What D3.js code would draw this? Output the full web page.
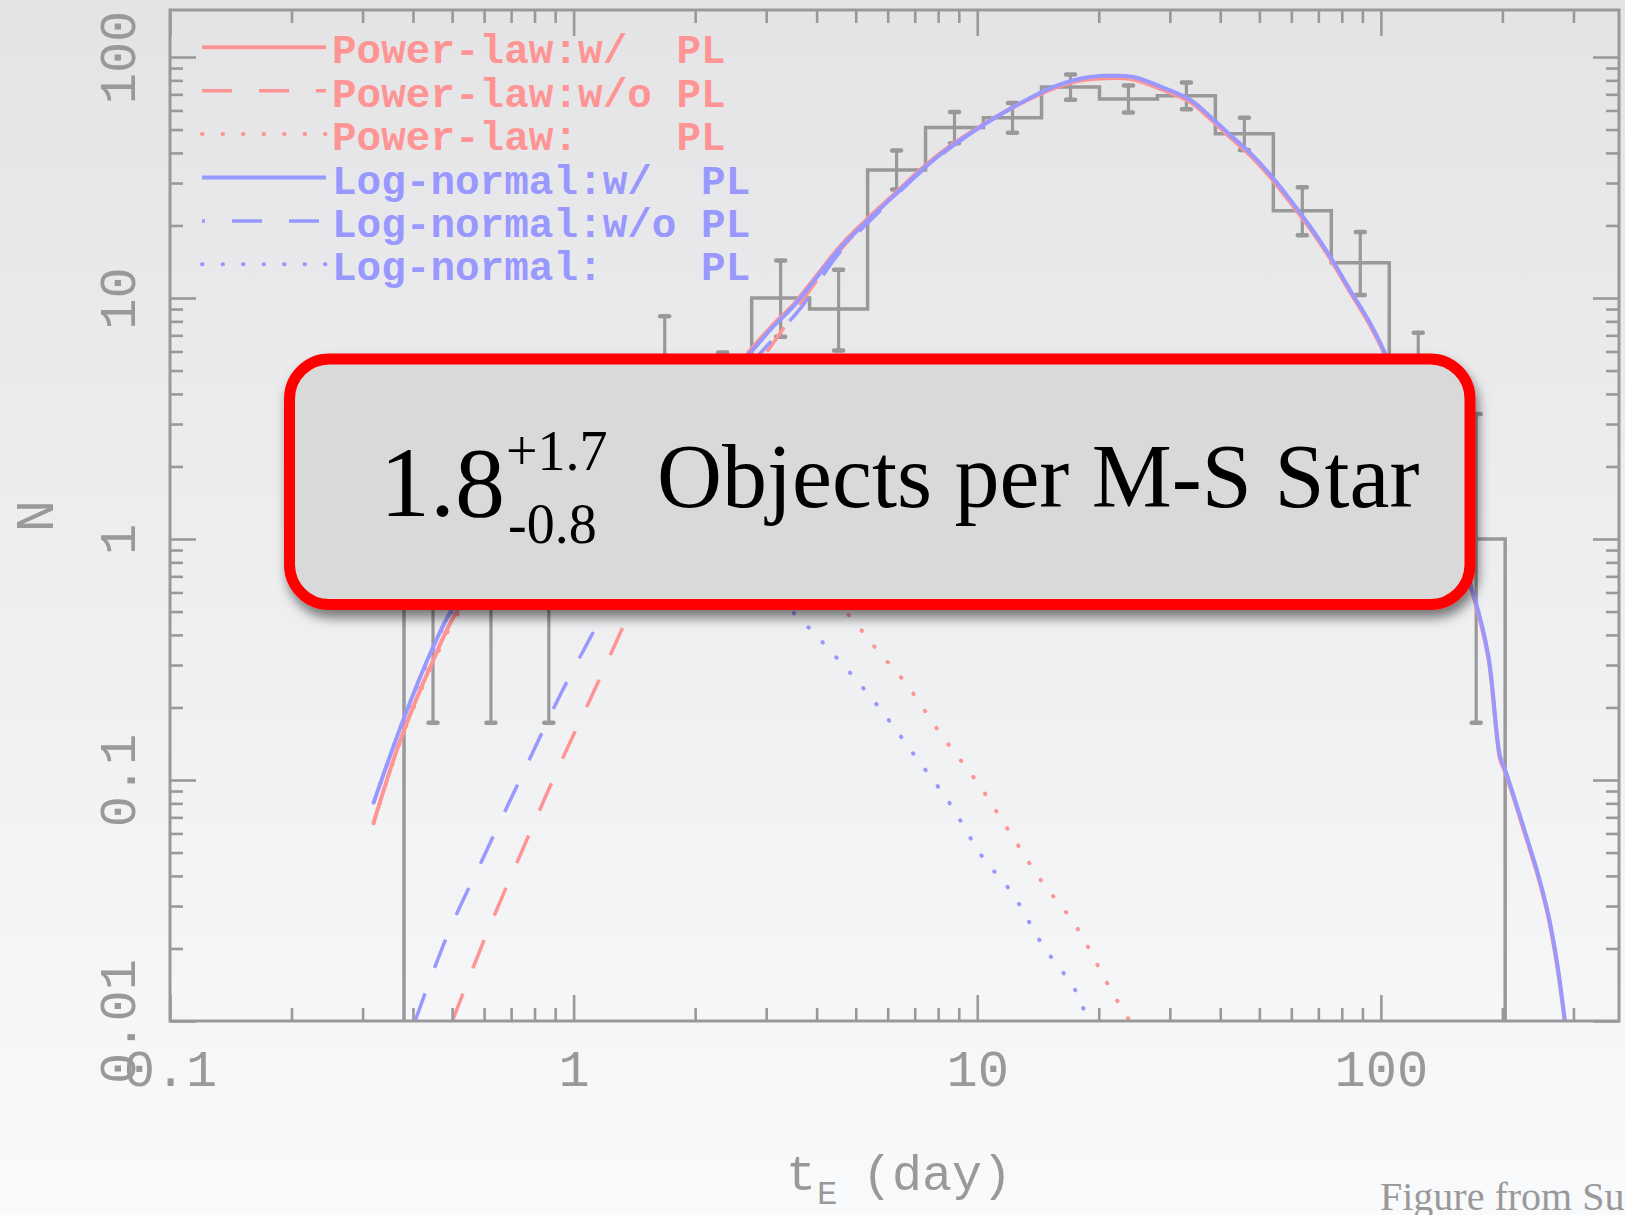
<!DOCTYPE html>
<html>
<head>
<meta charset="utf-8">
<script src="https://cdn.jsdelivr.net/npm/d3@7"></script>
<style>
  body { margin: 0; background: #eef0f2; }
  svg { display: block; }
</style>
</head>
<body>
<script>
// histogram of event timescales (bin edges in days, counts per bin, error bar ends)
var binEdges = [0.380, 0.529, 0.736, 1.024, 1.425, 1.984, 2.761, 3.843, 5.350, 7.446, 10.36,
                14.43, 20.08, 27.95, 38.90, 54.14, 75.36, 104.9, 146.0, 203.2];
var counts  = [1, 1, 1, 2, 5, 3, 10, 9, 34, 51, 56, 75, 67, 69, 48, 23, 14, 4, 1];
var errLow  = [0.173, 0.173, 0.173, 0.712, 2.85, 1.37, 6.90, 6.06, 28.2, 43.9, 48.5, 66.4, 58.8, 60.7, 41.1, 18.2, 10.3, 2.09, 0.173];
var errHigh = [3.30, 3.30, 3.30, 4.66, 8.40, 5.94, 14.3, 13.1, 40.9, 59.2, 64.5, 84.7, 76.2, 78.4, 56.0, 28.8, 18.8, 7.18, 3.30];

// power-law model, with planetary-mass population
var plWithT = [0.3195, 0.3725, 0.4418, 0.5172, 0.631, 0.794, 1.0, 1.26, 1.58, 2.00, 2.736, 3.125, 3.503, 3.926,
               4.571, 5.324, 6.196, 7.217, 8.403, 9.781, 11.39, 13.27, 15.44, 17.98, 20.94, 24.37, 28.38, 33.68,
               37.74, 42.30, 47.42, 53.16, 59.57, 66.77, 74.82, 83.86, 94.0, 102.4, 131.8, 171.2, 184.7, 197.4,
               203.2, 228.0, 246.0, 260.4, 273.3, 285.5];
var plWithN = [0.0665, 0.147, 0.296, 0.509, 0.750, 1.00, 1.29, 1.58, 2.04, 2.95, 6.05, 7.77, 9.40, 11.9,
               16.4, 21.2, 26.8, 34.0, 41.8, 49.5, 57.8, 66.2, 74.0, 79.8, 81.7, 80.7, 73.8, 65.0,
               55.4, 46.5, 39.1, 31.8, 25.0, 19.4, 14.6, 10.6, 7.70, 5.78, 1.95, 0.547, 0.319, 0.122,
               0.108, 0.0590, 0.0389, 0.0266, 0.0170, 0.0099];
// power-law model without it
var plWithoutT = [0.5002, 0.6049, 0.7411, 0.9112, 1.127, 1.381, 1.778, 2.239, 2.736, 3.083, 3.659, 4.571, 6.196, 7.217, 8.403, 9.781];
var plWithoutN = [0.00996, 0.0224, 0.0498, 0.110, 0.237, 0.501, 1.20, 2.63, 4.79, 6.31, 9.55, 15.8, 26.6, 33.9, 41.5, 49.4];
// power-law model, planetary-mass part only
var plOnlyT = [0.3195, 0.3725, 0.4418, 0.5172, 0.631, 0.794, 1.0, 1.26, 1.58, 2.0, 2.51, 3.162, 3.981, 4.873,
               5.685, 6.649, 8.147, 10.02, 12.07, 14.36, 17.47, 19.92, 21.63, 23.86];
var plOnlyN = [0.0661, 0.145, 0.288, 0.490, 0.724, 0.933, 1.12, 1.20, 1.20, 1.12, 1.00, 0.851, 0.676, 0.470,
               0.342, 0.252, 0.154, 0.0973, 0.0603, 0.0385, 0.0251, 0.0169, 0.0131, 0.0100];

// log-normal model, with planetary-mass population
var lnWithT = [0.3195, 0.3786, 0.4458, 0.4996, 0.631, 0.794, 1.0, 1.26, 1.58, 2.00, 2.736, 3.125, 3.503, 3.926,
               4.571, 5.324, 6.196, 7.217, 8.403, 9.781, 11.39, 13.27, 15.44, 17.98, 20.94, 24.37, 28.38, 33.68,
               37.74, 42.30, 47.42, 53.16, 59.57, 66.77, 74.82, 83.86, 94.0, 102.4, 131.8, 171.2, 184.7, 197.4,
               203.2, 228.0, 246.0, 260.4, 273.3, 285.5];
var lnWithN = [0.0805, 0.178, 0.348, 0.509, 0.832, 1.12, 1.51, 1.91, 2.40, 3.31, 5.91, 7.62, 9.23, 11.7,
               16.1, 20.8, 26.4, 33.5, 41.3, 49.1, 57.6, 66.5, 75.1, 81.3, 83.6, 82.6, 75.5, 66.5,
               56.7, 47.6, 40.0, 32.5, 25.6, 19.8, 14.9, 10.8, 7.88, 5.91, 2.0, 0.560, 0.326, 0.125,
               0.110, 0.0603, 0.0398, 0.0272, 0.0174, 0.0101];
var lnWithoutT = [0.4044, 0.4873, 0.5991, 0.7536, 0.9322, 1.191, 1.585, 1.995, 2.736, 3.162, 3.659, 4.571, 6.196, 7.217, 8.403, 9.781];
var lnWithoutN = [0.00996, 0.0228, 0.0482, 0.109, 0.230, 0.501, 1.26, 2.51, 5.25, 6.92, 9.12, 15.5, 26.0, 33.1, 40.9, 48.9];
var lnOnlyT = [0.3195, 0.3786, 0.4458, 0.4996, 0.631, 0.794, 1.0, 1.26, 1.58, 2.0, 2.51, 3.512, 4.488, 5.645,
               6.984, 8.588, 10.25, 12.19, 14.51, 17.37, 18.19, 19.05];
var lnOnlyN = [0.0805, 0.177, 0.339, 0.501, 0.759, 1.00, 1.26, 1.32, 1.20, 1.00, 0.794, 0.493, 0.321, 0.205,
               0.127, 0.0791, 0.0485, 0.0340, 0.0207, 0.0137, 0.0116, 0.0095];

var legendLabels = ["Power-law:w/  PL", "Power-law:w/o PL", "Power-law:    PL",
                    "Log-normal:w/  PL", "Log-normal:w/o PL", "Log-normal:    PL"];
var xTickLabels = ["0.1", "1", "10", "100"];
var yTickLabels = ["0.01", "0.1", "1", "10", "100"];

var W = 1625, H = 1215;
var gray = "#999999", pink = "#ff9494", blue = "#9898ff";
var pLeft = 170, pRight = 1619, pTop = 10, pBottom = 1021;

var svg = d3.select("body").append("svg").attr("width", W).attr("height", H);
var defs = svg.append("defs");

var bg = defs.append("linearGradient").attr("id", "bg")
    .attr("x1", 0).attr("y1", 0).attr("x2", 0).attr("y2", 1);
bg.append("stop").attr("offset", "0%").attr("stop-color", "#e4e4e6");
bg.append("stop").attr("offset", "100%").attr("stop-color", "#f9fafc");

defs.append("clipPath").attr("id", "plotclip")
  .append("rect").attr("x", pLeft).attr("y", pTop).attr("width", pRight - pLeft).attr("height", pBottom - pTop);

var shadow = defs.append("filter").attr("id", "shadow")
    .attr("x", "-10%").attr("y", "-20%").attr("width", "120%").attr("height", "150%");
shadow.append("feDropShadow").attr("dx", 3).attr("dy", 8).attr("stdDeviation", 6)
    .attr("flood-color", "#000").attr("flood-opacity", 0.5);

svg.append("rect").attr("width", W).attr("height", H).attr("fill", "url(#bg)");

var x = d3.scaleLog().domain([0.1, 389]).range([pLeft, pRight]);
var y = d3.scaleLog().domain([0.01, 156.7]).range([pBottom, pTop]);

var plot = svg.append("g").attr("clip-path", "url(#plotclip)");

// histogram steps, dropping to the floor of the axis at both ends
var floorN = y.domain()[0];
var steps = [[binEdges[0], floorN]];
counts.forEach(function (c, i) {
  steps.push([binEdges[i], c]);
  steps.push([binEdges[i + 1], c]);
});
steps.push([binEdges[binEdges.length - 1], floorN]);

var line = d3.line().x(function (d) { return x(d[0]); }).y(function (d) { return y(d[1]); });

plot.append("path").attr("d", line(steps))
    .attr("fill", "none").attr("stroke", gray).attr("stroke-width", 3.5);

// error bars
var bars = plot.selectAll("g.err").data(counts).enter().append("g").attr("class", "err")
    .attr("transform", function (d, i) {
      return "translate(" + x(Math.sqrt(binEdges[i] * binEdges[i + 1])) + ",0)";
    });
bars.append("line")
    .attr("y1", function (d, i) { return y(errLow[i]); })
    .attr("y2", function (d, i) { return y(errHigh[i]); })
    .attr("stroke", gray).attr("stroke-width", 3.2);
[errLow, errHigh].forEach(function (arr) {
  bars.append("line").attr("x1", -4.5).attr("x2", 4.5)
      .attr("y1", function (d, i) { return y(arr[i]); })
      .attr("y2", function (d, i) { return y(arr[i]); })
      .attr("stroke", gray).attr("stroke-width", 4.5).attr("stroke-linecap", "round");
});

// model curves
var curve = d3.line().curve(d3.curveCatmullRom.alpha(0.5))
    .x(function (d) { return x(d[0]); }).y(function (d) { return y(d[1]); });
var dashStyle = { solid: null, dashed: "30,27", dotted: "0.5,20" };
var widthStyle = { solid: 4, dashed: 3.5, dotted: 4 };

var series = [
  { t: plOnlyT, n: plOnlyN, color: pink, dash: "dotted" },
  { t: plWithoutT, n: plWithoutN, color: pink, dash: "dashed" },
  { t: plWithT, n: plWithN, color: pink, dash: "solid" },
  { t: lnOnlyT, n: lnOnlyN, color: blue, dash: "dotted" },
  { t: lnWithoutT, n: lnWithoutN, color: blue, dash: "dashed" },
  { t: lnWithT, n: lnWithN, color: blue, dash: "solid" }
];
series.forEach(function (s) {
  var pts = s.t.map(function (t, i) { return [t, s.n[i]]; });
  plot.append("path").attr("d", curve(pts))
      .attr("fill", "none").attr("stroke", s.color)
      .attr("stroke-width", widthStyle[s.dash])
      .attr("stroke-dasharray", dashStyle[s.dash])
      .attr("stroke-linecap", s.dash === "dotted" ? "round" : "butt")
      .attr("stroke-linejoin", "round");
});

// axes, ticks on all four sides pointing inward
function isMajor(v) {
  var l = Math.log10(v);
  return Math.abs(l - Math.round(l)) < 1e-6;
}
function labelFor(list) {
  return function (d) {
    if (!isMajor(d)) return "";
    var hit = list.filter(function (l) { return Math.abs(+l - d) < 1e-9 * d; });
    return hit.length ? hit[0] : "";
  };
}
function styleAxis(g, attr) {
  g.select(".domain").remove();
  g.selectAll(".tick line").attr("stroke", gray).attr("stroke-width", 2.6);
  g.selectAll(".tick").filter(isMajor).select("line")
    .attr(attr, function () { return +this.getAttribute(attr) * 2; });
  g.selectAll(".tick text")
    .attr("fill", gray)
    .style("font-family", "'Liberation Mono', 'DejaVu Sans Mono', monospace")
    .style("font-size", "52px");
}

var xTicks = x.ticks(), yTicks = y.ticks();

var gx = svg.append("g").attr("transform", "translate(0," + pBottom + ")")
    .call(d3.axisBottom(x).tickValues(xTicks).tickSizeInner(-13).tickSizeOuter(0).tickFormat(labelFor(xTickLabels)));
styleAxis(gx, "y2");
gx.selectAll(".tick text").attr("y", 65).attr("dy", 0);

var gxt = svg.append("g").attr("transform", "translate(0," + pTop + ")")
    .call(d3.axisTop(x).tickValues(xTicks).tickSizeInner(-13).tickSizeOuter(0).tickFormat(""));
styleAxis(gxt, "y2");

var gy = svg.append("g").attr("transform", "translate(" + pLeft + ",0)")
    .call(d3.axisLeft(y).tickValues(yTicks).tickSizeInner(-13).tickSizeOuter(0).tickFormat(labelFor(yTickLabels)));
styleAxis(gy, "x2");
gy.selectAll(".tick text").attr("x", 0).attr("y", -35).attr("dy", 0)
    .attr("text-anchor", "middle").attr("transform", "rotate(-90)");

var gyr = svg.append("g").attr("transform", "translate(" + pRight + ",0)")
    .call(d3.axisRight(y).tickValues(yTicks).tickSizeInner(-13).tickSizeOuter(0).tickFormat(""));
styleAxis(gyr, "x2");

svg.append("rect").attr("x", pLeft).attr("y", pTop)
    .attr("width", pRight - pLeft).attr("height", pBottom - pTop)
    .attr("fill", "none").attr("stroke", gray).attr("stroke-width", 3);

// axis titles
var mono = "'Liberation Mono', monospace";
svg.append("text").attr("transform", "translate(53,516) rotate(-90)")
    .attr("text-anchor", "middle").attr("fill", gray)
    .style("font-family", mono).style("font-size", "54px")
    .text("N");

svg.append("text").attr("x", 786).attr("y", 1190).attr("fill", gray)
    .style("font-family", mono).style("font-size", "50px").text("t");
svg.append("text").attr("x", 817).attr("y", 1204).attr("fill", gray)
    .style("font-family", mono).style("font-size", "34px").text("E");
svg.append("text").attr("x", 862).attr("y", 1190).attr("fill", gray)
    .style("font-family", mono).style("font-size", "50px").text("(day)");

// legend
var legendColor = [pink, pink, pink, blue, blue, blue];
var legendDash = ["solid", "dashed", "dotted", "solid", "dashed", "dotted"];
var leg = svg.append("g");
legendLabels.forEach(function (lab, i) {
  var ly = 47.3 + i * 43.4;
  leg.append("line").attr("x1", 202).attr("x2", 326).attr("y1", ly).attr("y2", ly)
      .attr("stroke", legendColor[i]).attr("stroke-width", widthStyle[legendDash[i]])
      .attr("stroke-dasharray", dashStyle[legendDash[i]])
      .attr("stroke-dashoffset", i === 4 ? 27 : 0)
      .attr("stroke-linecap", legendDash[i] === "dotted" ? "round" : "butt");
  leg.append("text").attr("x", 332).attr("y", ly + 16)
      .attr("fill", legendColor[i])
      .style("font-family", mono).style("font-size", "41px")
      .style("font-weight", "bold").style("white-space", "pre")
      .text(lab);
});

// annotation box
var box = svg.append("g");
box.append("rect").attr("x", 289.5).attr("y", 359).attr("width", 1180.5).attr("height", 245.5)
    .attr("rx", 40).attr("ry", 40)
    .attr("fill", "#d9d9d9").attr("stroke", "#ff0000").attr("stroke-width", 11)
    .attr("filter", "url(#shadow)");
var serif = "'Liberation Serif', 'Times New Roman', serif";
box.append("text").attr("x", 380).attr("y", 516).style("font-family", serif).style("font-size", "100px")
    .attr("fill", "#000").text("1.8");
box.append("text").attr("x", 506).attr("y", 470).style("font-family", serif).style("font-size", "56px")
    .attr("fill", "#000").text("+1.7");
box.append("text").attr("x", 508).attr("y", 543).style("font-family", serif).style("font-size", "56px")
    .attr("fill", "#000").text("-0.8");
box.append("text").attr("x", 657).attr("y", 507).style("font-family", serif).style("font-size", "90px")
    .attr("fill", "#000").text("Objects per M-S Star");

// source note, cut by the page edge as in the slide
svg.append("text").attr("x", 1380).attr("y", 1210).attr("fill", gray)
    .style("font-family", serif).style("font-size", "40px")
    .text("Figure from Sumi et al. 2011");
</script>
</body>
</html>
